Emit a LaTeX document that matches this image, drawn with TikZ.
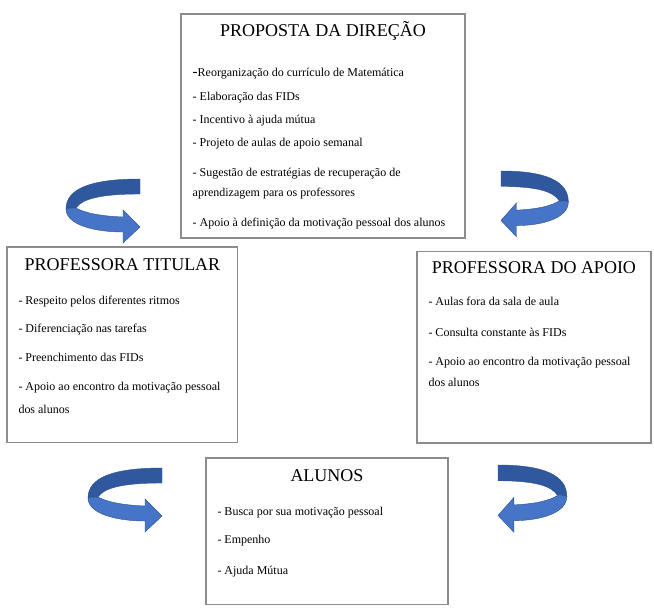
\documentclass[tikz,border=0pt]{standalone}
\usepackage{fontspec}
\setmainfont{Liberation Serif}
\definecolor{boxgray}{RGB}{140,140,140}
\definecolor{arrdark}{RGB}{47,88,158}
\definecolor{arrlight}{RGB}{70,117,200}
\definecolor{arredge}{RGB}{45,80,140}
\tikzset{
  box/.style={draw=boxgray, line width=1.2pt, fill=white, inner sep=0pt},
  ttl/.style={anchor=base, inner sep=0pt, font=\fontsize{18}{20}\selectfont},
  item/.style={anchor=base west, inner sep=0pt, font=\fontsize{12}{14}\selectfont},
  uturn/.pic={
    \fill[arrdark, draw=arredge, line width=0.4pt]
      (0,0) .. controls (-50,0) and (-74,10) .. (-74,30)
      .. controls (-72,29) and (-68,29) .. (-64,29)
      .. controls (-58,20) and (-40,15) .. (0,15) -- cycle;
    \fill[arrlight, draw=arredge, line width=0.4pt]
      (-64,29) .. controls (-55,34) and (-40,37) .. (-17,38)
      -- (-17,31) -- (0,48) -- (-17,64) -- (-17,53)
      .. controls (-45,53) and (-74,46) .. (-74,30)
      .. controls (-72,29) and (-68,29) .. (-64,29) -- cycle;
  }
}
\begin{document}
\begin{tikzpicture}[x=1pt,y=-1pt]
\useasboundingbox (0,0) rectangle (654,616);
% boxes
\node[box, minimum width=284pt, minimum height=224pt] (dir) at (323,126) {};
\node[box, minimum width=230.5pt, minimum height=195.5pt] (tit) at (122.25,344.75) {};
\node[box, minimum width=234pt, minimum height=191.5pt] (apo) at (534,347.25) {};
\node[box, minimum width=242pt, minimum height=146.5pt] (alu) at (327,531.25) {};
% titles
\node[ttl] (dirT) at (323,36.5) {PROPOSTA DA DIREÇÃO};
\node[ttl] (titT) at (122.5,270.5) {PROFESSORA TITULAR};
\node[ttl] (apoT) at (534,273.5) {PROFESSORA DO APOIO};
\node[ttl] (aluT) at (327,481.5) {ALUNOS};
% direction items
\node[item] (d1) at (192.5,76.5) {{\fontsize{15}{15}\selectfont -}Reorganização do currículo de Matemática};
\node[item] (d2) at (192.5,100.5) {- Elaboração das FIDs};
\node[item] (d3) at (192.5,123.5) {- Incentivo à ajuda mútua};
\node[item] (d4) at (192.5,146.5) {- Projeto de aulas de apoio semanal};
\node[item] (d5) at (192.5,176.5) {- Sugestão de estratégias de recuperação de};
\node[item] (d6) at (192.5,196) {aprendizagem para os professores};
\node[item] (d7) at (192.5,226) {- Apoio à definição da motivação pessoal dos alunos};
% titular items
\node[item] (t1) at (18.3,304) {- Respeito pelos diferentes ritmos};
\node[item] (t2) at (18.3,332.7) {- Diferenciação nas tarefas};
\node[item] (t3) at (18.3,361.7) {- Preenchimento das FIDs};
\node[item] (t4) at (18.3,390) {- Apoio ao encontro da motivação pessoal};
\node[item] (t5) at (18.3,413.3) {dos alunos};
% apoio items
\node[item] (a1) at (428.3,305) {- Aulas fora da sala de aula};
\node[item] (a2) at (428.3,336) {- Consulta constante às FIDs};
\node[item] (a3) at (428.3,365) {- Apoio ao encontro da motivação pessoal};
\node[item] (a4) at (428.3,386.7) {dos alunos};
% alunos items
\node[item] (s1) at (217.3,515) {- Busca por sua motivação pessoal};
\node[item] (s2) at (217.3,543.3) {- Empenho};
\node[item] (s3) at (217.3,574) {- Ajuda Mútua};
% u-turn arrows
\pic (ar1) at (140,179) {uturn};
\pic[xscale=-0.91, yscale=1.03] (ar2) at (501,171) {uturn};
\pic (ar3) at (162,468) {uturn};
\pic[xscale=-0.93, yscale=1.05] (ar4) at (498,465) {uturn};
\end{tikzpicture}
\end{document}
